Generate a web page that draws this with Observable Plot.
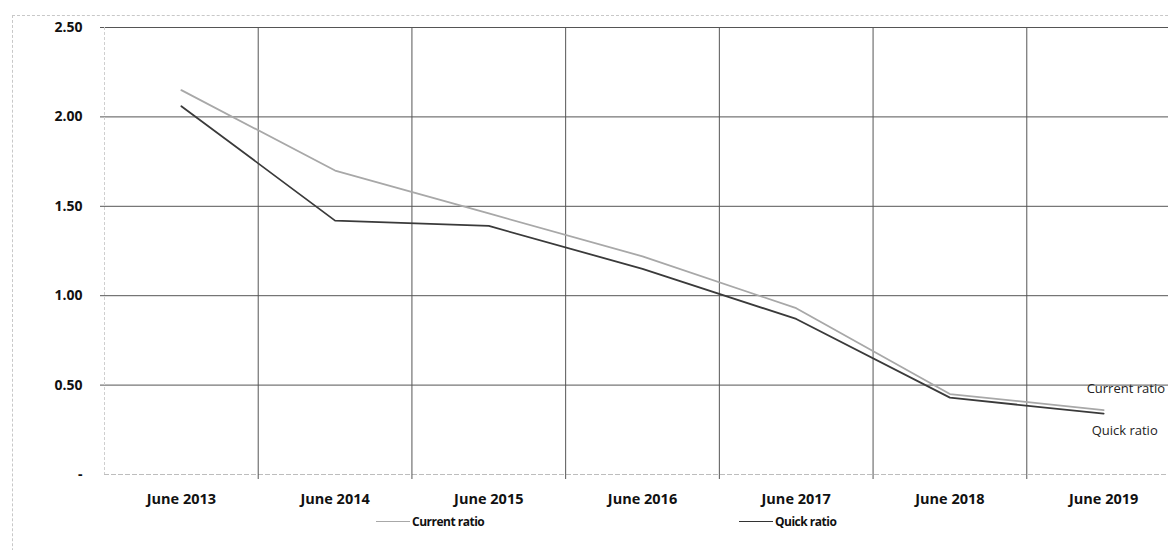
<!DOCTYPE html>
<html>
<head>
<meta charset="utf-8">
<script src="https://cdn.jsdelivr.net/npm/d3@7"></script>
<script src="https://cdn.jsdelivr.net/npm/@observablehq/plot@0.6"></script>
<style>
  html, body { margin: 0; padding: 0; background: #fff; }
  body { width: 1168px; height: 550px; overflow: hidden; position: relative; font-family: "Open Sans", sans-serif; }
  #frame { position: absolute; left: 12px; top: 15px; width: 1200px; height: 600px;
           border-left: 1px dashed #c8c8c8; border-top: 1px dashed #c8c8c8; }
  #chart { position: absolute; left: 0; top: 0; width: 1200px; }
  #chart svg { max-width: none !important; }
  .leg { position: absolute; top: 513px; font-size: 12px; font-weight: 700; letter-spacing: -0.5px;
         color: #111; display: flex; align-items: center; white-space: nowrap; }
  .leg span.sw { display: inline-block; width: 34px; height: 0; margin-right: 2px; }
</style>
</head>
<body>
<div id="frame"></div>
<div id="chart"></div>
<div class="leg" style="left:376px"><span class="sw" style="border-top:1.5px solid #a8a8a8"></span>Current ratio</div>
<div class="leg" style="left:739px"><span class="sw" style="border-top:1.5px solid #333"></span>Quick ratio</div>
<script>
const categories = ["June 2013", "June 2014", "June 2015", "June 2016", "June 2017", "June 2018", "June 2019"];
const seriesNames = ["Current ratio", "Quick ratio"];
const currentRatio = [2.15, 1.70, 1.46, 1.22, 0.93, 0.45, 0.36];
const quickRatio = [2.06, 1.42, 1.39, 1.15, 0.87, 0.43, 0.34];
const yTicks = [0, 0.5, 1, 1.5, 2, 2.5];

const data = categories.flatMap((c, i) => [
  {i, cat: c, series: seriesNames[0], v: currentRatio[i]},
  {i, cat: c, series: seriesNames[1], v: quickRatio[i]}
]);
const lastIdx = categories.length - 1;
const boundaries = categories.map((_, i) => i + 0.5);

const chart = Plot.plot({
  width: 1200,
  height: 510,
  marginLeft: 104,
  marginRight: 20,
  marginTop: 27,
  marginBottom: 36,
  style: {fontFamily: "'Open Sans', sans-serif", fontSize: "14px", color: "#111", background: "transparent", overflow: "visible", maxWidth: "none"},
  x: {type: "linear", domain: [-0.5, categories.length - 0.5], label: null},
  y: {domain: [0, 2.5], label: null},
  color: {domain: seriesNames, range: ["#a8a8a8", "#3a3a3a"]},
  marks: [
    Plot.ruleY(yTicks.filter(t => t > 0), {stroke: "#555", strokeWidth: 1, insetLeft: -4}),
    Plot.ruleY([0], {stroke: "#bdbdbd", strokeDasharray: "5,2"}),
    Plot.ruleX([-0.5], {stroke: "#cfcfcf", strokeDasharray: "3,2"}),
    Plot.ruleX(boundaries, {stroke: "#555", strokeWidth: 1, insetBottom: -5}),
    Plot.line(data, {x: "i", y: "v", z: "series", stroke: "series", strokeWidth: 1.8}),
    Plot.text(data.filter(d => d.i === lastIdx && d.series === seriesNames[0]),
      {x: "i", y: "v", text: "series", textAnchor: "start", dx: -17, dy: -21, fontSize: 13, fill: "#222", fontWeight: 400, letterSpacing: -0.4}),
    Plot.text(data.filter(d => d.i === lastIdx && d.series === seriesNames[1]),
      {x: "i", y: "v", text: "series", textAnchor: "start", dx: -12, dy: 17, fontSize: 13, fill: "#222", fontWeight: 400}),
    Plot.axisY({ticks: yTicks, tickFormat: d => d === 0 ? "-" : d.toFixed(2), tickSize: 0, tickPadding: 22, fontWeight: 700, fontSize: 14, label: null}),
    Plot.axisX({ticks: categories.map((_, i) => i), tickFormat: i => categories[i], tickSize: 0, tickPadding: 19, fontWeight: 700, fontSize: 14.5, label: null})
  ]
});
document.getElementById("chart").append(chart);
</script>
</body>
</html>
